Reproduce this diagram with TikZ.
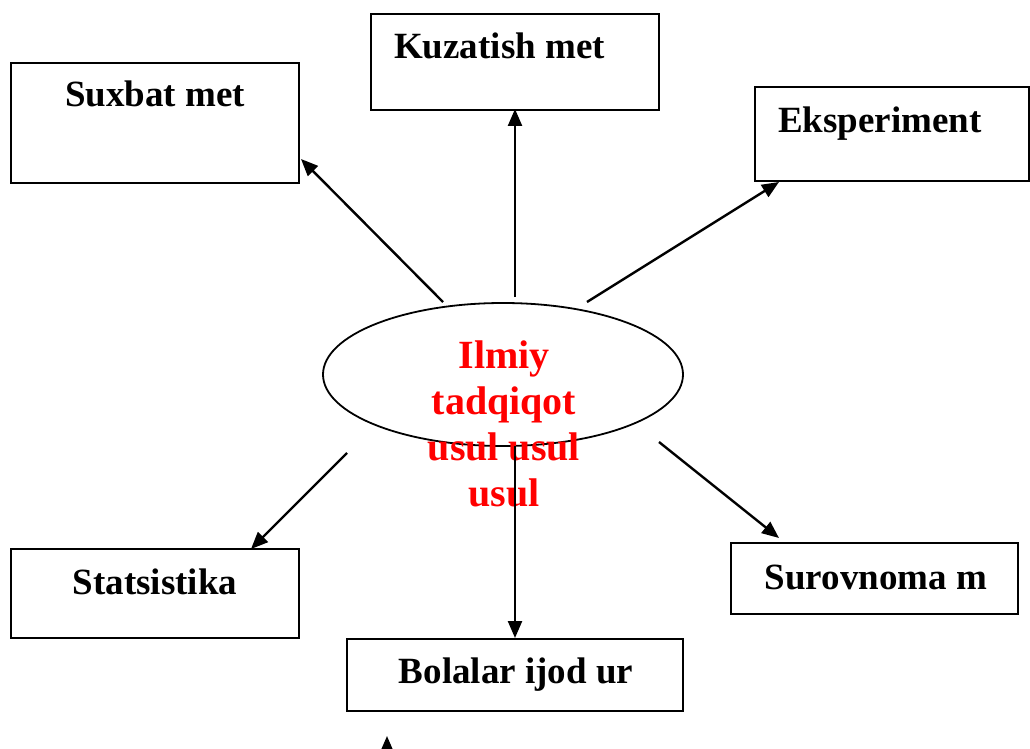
\documentclass[tikz,border=0pt]{standalone}
\usepackage{fontspec}
\setmainfont{Liberation Serif}
\usepackage{tikz}
\usetikzlibrary{arrows.meta, positioning, shapes}

\begin{document}
\begin{tikzpicture}[
                x=1pt, y=-1pt,
                line width=2.4pt,
                >={Triangle[length=17pt, width=14pt]},
                box/.style={draw, rectangle, line width=1.8pt, inner sep=0pt},
                lbl/.style={inner sep=0pt, font=\bfseries\fontsize{37}{40}\selectfont}
            ]
                \useasboundingbox (0, 0) rectangle (1030, 749);
                % boxes
                \node[box, minimum width=288pt, minimum height=120pt] (suxbat) at (155, 123) {};
                \node[box, minimum width=288pt, minimum height=96pt] (kuzatish) at (515, 62) {};
                \node[box, minimum width=274pt, minimum height=94pt] (eksp) at (892, 134) {};
                \node[box, minimum width=288pt, minimum height=89pt] (stat) at (155, 593.5) {};
                \node[box, minimum width=287pt, minimum height=71pt] (surov) at (874.5, 578.5) {};
                \node[box, minimum width=336pt, minimum height=72pt] (bolalar) at (515, 675) {};
                \node[lbl, anchor=base] (suxbatT) at (155, 107) {Suxbat met};
                \node[lbl, anchor=base west] (kuzatishT) at (393, 59) {Kuzatish met};
                \node[lbl, anchor=base west] (ekspT) at (777, 132) {Eksperiment};
                \node[lbl, anchor=base] (statT) at (155, 594) {Statsistika};
                \node[lbl, anchor=base] (surovT) at (876, 589) {Surovnoma m};
                \node[lbl, anchor=base] (bolalarT) at (516, 683) {Bolalar ijod ur};
                % centre
                \node[draw, ellipse, line width=1.8pt, minimum width=360pt, minimum height=143pt] (ilmiy) at (503, 374.5) {};
                \node[anchor=base, inner sep=0pt, align=center, text=red,
                    font=\bfseries\fontsize{40}{46}\selectfont] (ilmiyT) at (504, 506)
                    {Ilmiy\\tadqiqot\\usul usul\\usul};
                % arrow ends
                \coordinate (a1) at (443, 302);
                \coordinate (b1) at (301, 159);
                \coordinate (a2) at (515, 297);
                \coordinate (b2) at (515, 109);
                \coordinate (a3) at (587, 302);
                \coordinate (b3) at (779, 182);
                \coordinate (a4) at (347, 453);
                \coordinate (b4) at (251, 549);
                \coordinate (a5) at (659, 442);
                \coordinate (b5) at (779, 538);
                \coordinate (a6) at (515, 446);
                \coordinate (b6) at (515, 638);
                \coordinate (a7) at (387, 765);
                \coordinate (b7) at (387, 736);
                \path[->] (a1) edge (b1)
                (a2) edge (b2)
                (a3) edge (b3)
                (a4) edge (b4)
                (a5) edge (b5)
                (a6) edge (b6)
                (a7) edge (b7);
            \end{tikzpicture}
\end{document}
